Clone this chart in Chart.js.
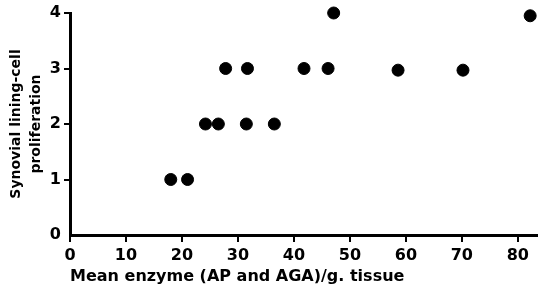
<!DOCTYPE html>
<html>
<head>
<meta charset="utf-8">
<script src="https://cdn.jsdelivr.net/npm/chart.js@4"></script>
<style>
  html, body { margin: 0; padding: 0; background: #fff; }
  #wrap { width: 538px; height: 293px; }
</style>
</head>
<body>
<div id="wrap"><canvas id="scatter"></canvas></div>
<script>
// enzyme (x) vs lining-cell proliferation score (y)
const enzymeValues = [18, 21, 24.2, 26.5, 31.5, 36.5, 27.8, 31.7, 41.8, 46.1, 58.6, 70.2, 47.1, 82.2];
const prolifValues = [1, 1, 2, 2, 2, 2, 3, 3, 3, 3, 2.97, 2.97, 4, 3.95];
const xTicks = [0, 10, 20, 30, 40, 50, 60, 70, 80];
const yTicks = [0, 1, 2, 3, 4];

const points = enzymeValues.map((v, i) => ({ x: v, y: prolifValues[i] }));

const tickFont = { family: 'DejaVu Sans', size: 16, weight: 'bold' };

new Chart(document.getElementById('scatter').getContext('2d'), {
  type: 'scatter',
  data: {
    datasets: [{
      data: points,
      backgroundColor: '#000',
      borderColor: '#000',
      pointRadius: 6,
      pointHoverRadius: 6,
      clip: false
    }]
  },
  options: {
    responsive: true,
    maintainAspectRatio: false,
    animation: false,
    layout: { autoPadding: false, padding: { top: 13, right: 0, left: 0, bottom: 0 } },
    plugins: { legend: { display: false }, tooltip: { enabled: false } },
    scales: {
      x: {
        type: 'linear',
        min: 0,
        max: 83.6,
        afterBuildTicks: s => { s.ticks = xTicks.map(v => ({ value: v })); },
        afterFit: s => { s.height = 58; },
        border: { display: true, color: '#000', width: 3 },
        grid: {
          drawOnChartArea: false,
          drawTicks: true,
          tickLength: 7,
          color: '#000',
          lineWidth: 2
        },
        ticks: { color: '#000', font: tickFont, padding: 4, maxRotation: 0 },
        title: {
          display: true,
          align: 'start',
          text: 'Mean enzyme (AP and AGA)/g. tissue',
          color: '#000',
          font: { family: 'DejaVu Sans', size: 16, weight: 'bold' },
          padding: { top: 0, bottom: 7 }
        }
      },
      y: {
        min: 0,
        max: 4,
        afterBuildTicks: s => { s.ticks = yTicks.map(v => ({ value: v })); },
        afterFit: s => { s.width = 70; },
        border: { display: true, color: '#000', width: 3 },
        grid: {
          drawOnChartArea: false,
          drawTicks: true,
          tickLength: 6,
          color: ctx => ctx.tick && ctx.tick.value === 0 ? 'rgba(0,0,0,0)' : '#000',
          lineWidth: 2
        },
        ticks: { color: '#000', font: tickFont, padding: 3 },
        title: {
          display: true,
          text: ['Synovial lining-cell', 'proliferation'],
          color: '#000',
          font: { family: 'DejaVu Sans', size: 14, weight: 'bold', lineHeight: 1.4 },
          padding: { top: 7, bottom: 0 }
        }
      }
    }
  }
});
</script>
</body>
</html>
